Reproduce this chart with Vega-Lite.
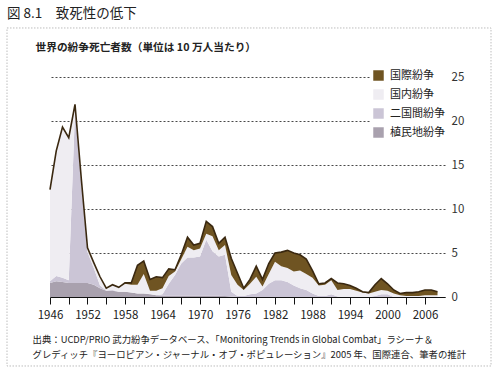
{
  "$schema": "https://vega.github.io/schema/vega-lite/v6.json",
  "width": 395,
  "height": 220,
  "autosize": {"type": "none"},
  "padding": {"left": 50, "top": 77, "right": 56, "bottom": 87},
  "background": "white",
  "config": {"font": "Noto Sans CJK JP", "view": {"stroke": null}},
  "title": {"text": "図 8.1　致死性の低下", "anchor": "start", "frame": "group", "dx": -43, "fontSize": 13.5, "fontWeight": "normal", "font": "Noto Sans CJK JP", "color": "#222", "offset": 0, "baseline": "middle", "dy": 0},
  "data": {"values": [
    {"year":1946,"colonial":1.6,"inter":0.2,"civil":10.4,"intl":0},
    {"year":1947,"colonial":1.8,"inter":0.6,"civil":14.2,"intl":0},
    {"year":1948,"colonial":1.7,"inter":0.5,"civil":17.1,"intl":0},
    {"year":1949,"colonial":1.6,"inter":0.3,"civil":16.2,"intl":0},
    {"year":1950,"colonial":1.6,"inter":19.6,"civil":0.7,"intl":0},
    {"year":1951,"colonial":1.6,"inter":11.4,"civil":0.5,"intl":0},
    {"year":1952,"colonial":1.6,"inter":3.5,"civil":0.5,"intl":0},
    {"year":1953,"colonial":1.4,"inter":1.9,"civil":0.6,"intl":0},
    {"year":1954,"colonial":1.0,"inter":0.3,"civil":1.0,"intl":0},
    {"year":1955,"colonial":0.7,"inter":0.05,"civil":0.25,"intl":0},
    {"year":1956,"colonial":0.7,"inter":0.1,"civil":0.6,"intl":0},
    {"year":1957,"colonial":0.6,"inter":0,"civil":0.5,"intl":0},
    {"year":1958,"colonial":0.6,"inter":0,"civil":0.9,"intl":0.1},
    {"year":1959,"colonial":0.5,"inter":0,"civil":0.9,"intl":0.2},
    {"year":1960,"colonial":0.4,"inter":0,"civil":1.0,"intl":2.2},
    {"year":1961,"colonial":0.4,"inter":0,"civil":2.2,"intl":1.5},
    {"year":1962,"colonial":0.3,"inter":0.05,"civil":0.35,"intl":1.3},
    {"year":1963,"colonial":0.2,"inter":0,"civil":0.5,"intl":1.6},
    {"year":1964,"colonial":0.15,"inter":0.15,"civil":0.7,"intl":1.2},
    {"year":1965,"colonial":0.15,"inter":1.35,"civil":0.9,"intl":0.8},
    {"year":1966,"colonial":0.15,"inter":2.35,"civil":0.4,"intl":0.2},
    {"year":1967,"colonial":0.15,"inter":3.65,"civil":0.5,"intl":0.5},
    {"year":1968,"colonial":0.15,"inter":4.35,"civil":1.2,"intl":1.1},
    {"year":1969,"colonial":0.15,"inter":4.35,"civil":0.8,"intl":0.6},
    {"year":1970,"colonial":0.15,"inter":4.45,"civil":0.9,"intl":0.6},
    {"year":1971,"colonial":0.15,"inter":6.35,"civil":0.7,"intl":1.4},
    {"year":1972,"colonial":0.15,"inter":5.05,"civil":1.7,"intl":1.1},
    {"year":1973,"colonial":0.15,"inter":4.45,"civil":0.7,"intl":0.8},
    {"year":1974,"colonial":0.1,"inter":4.7,"civil":1.1,"intl":0.9},
    {"year":1975,"colonial":0.05,"inter":0.55,"civil":1.9,"intl":1.9},
    {"year":1976,"colonial":0,"inter":0.1,"civil":1.3,"intl":1.3},
    {"year":1977,"colonial":0,"inter":0.1,"civil":0.7,"intl":0.2},
    {"year":1978,"colonial":0,"inter":0.3,"civil":1.2,"intl":0.5},
    {"year":1979,"colonial":0,"inter":0.4,"civil":1.9,"intl":1.2},
    {"year":1980,"colonial":0,"inter":0.8,"civil":0.4,"intl":0.8},
    {"year":1981,"colonial":0,"inter":1.5,"civil":1.1,"intl":1.2},
    {"year":1982,"colonial":0,"inter":1.9,"civil":2.1,"intl":1.0},
    {"year":1983,"colonial":0,"inter":1.9,"civil":1.6,"intl":1.6},
    {"year":1984,"colonial":0,"inter":1.7,"civil":1.6,"intl":2.0},
    {"year":1985,"colonial":0,"inter":1.3,"civil":1.6,"intl":2.1},
    {"year":1986,"colonial":0,"inter":1.0,"civil":2.0,"intl":1.8},
    {"year":1987,"colonial":0,"inter":0.8,"civil":1.8,"intl":1.7},
    {"year":1988,"colonial":0,"inter":0.4,"civil":1.8,"intl":0.8},
    {"year":1989,"colonial":0,"inter":0.1,"civil":1.2,"intl":0.2},
    {"year":1990,"colonial":0,"inter":0.1,"civil":1.3,"intl":0.2},
    {"year":1991,"colonial":0,"inter":0.3,"civil":1.6,"intl":0.2},
    {"year":1992,"colonial":0,"inter":0.05,"civil":0.75,"intl":0.8},
    {"year":1993,"colonial":0,"inter":0,"civil":0.9,"intl":0.6},
    {"year":1994,"colonial":0,"inter":0,"civil":0.9,"intl":0.4},
    {"year":1995,"colonial":0,"inter":0,"civil":0.7,"intl":0.3},
    {"year":1996,"colonial":0,"inter":0,"civil":0.5,"intl":0.1},
    {"year":1997,"colonial":0,"inter":0,"civil":0.4,"intl":0.1},
    {"year":1998,"colonial":0,"inter":0.1,"civil":0.5,"intl":0.8},
    {"year":1999,"colonial":0,"inter":0.3,"civil":0.5,"intl":1.3},
    {"year":2000,"colonial":0,"inter":0.3,"civil":0.4,"intl":0.8},
    {"year":2001,"colonial":0,"inter":0,"civil":0.4,"intl":0.4},
    {"year":2002,"colonial":0,"inter":0,"civil":0.2,"intl":0.2},
    {"year":2003,"colonial":0,"inter":0,"civil":0.1,"intl":0.4},
    {"year":2004,"colonial":0,"inter":0,"civil":0.1,"intl":0.4},
    {"year":2005,"colonial":0,"inter":0,"civil":0.1,"intl":0.5},
    {"year":2006,"colonial":0,"inter":0,"civil":0.2,"intl":0.6},
    {"year":2007,"colonial":0,"inter":0,"civil":0.2,"intl":0.6},
    {"year":2008,"colonial":0,"inter":0,"civil":0.2,"intl":0.4}
  ]},
  "layer": [
    {
      "data": {"values": [{}]},
      "mark": {"type": "rect", "fill": null, "fillOpacity": 0, "stroke": "#bdbdbd", "strokeDash": [1.5, 1.5], "strokeWidth": 1, "clip": false},
      "encoding": {
        "x": {"datum": 1939.12, "type": "quantitative"},
        "x2": {"datum": 2016.56},
        "y": {"datum": 30.57, "type": "quantitative"},
        "y2": {"datum": -7.84}
      }
    },
    {
      "transform": [
        {"fold": ["colonial", "inter", "civil", "intl"], "as": ["key", "value"]},
        {"calculate": "datum.key === 'intl' ? '国際紛争' : datum.key === 'civil' ? '国内紛争' : datum.key === 'inter' ? '二国間紛争' : '植民地紛争'", "as": "type"},
        {"calculate": "indexof(['colonial', 'inter', 'civil', 'intl'], datum.key)", "as": "k"},
        {"stack": "value", "groupby": ["year"], "sort": [{"field": "k", "order": "ascending"}], "as": ["v0", "v1"]}
      ],
      "layer": [
        {
          "mark": {"type": "area", "interpolate": "linear"},
          "encoding": {
            "x": {
              "field": "year", "type": "quantitative",
              "scale": {"domain": [1946, 2009.2], "nice": false, "zero": false},
              "axis": {
                "values": [1946,1949,1952,1955,1958,1961,1964,1967,1970,1973,1976,1979,1982,1985,1988,1991,1994,1997,2000,2003,2006],
                "tickCount": 40,
                "format": "d",
                "labelExpr": "(datum.value - 1946) % 6 === 0 ? datum.label : ''",
                "grid": false,
                "domainColor": "#111", "domainWidth": 1,
                "tickColor": "#111", "tickSize": 7, "tickWidth": 1,
                "labelFont": "Noto Sans CJK JP", "labelFontSize": 11.5, "labelColor": "#222", "labelPadding": 5,
                "labelOverlap": false, "labelFlush": false, "labelBound": false,
                "title": ["出典：UCDP/PRIO 武力紛争データベース、「Monitoring Trends in Global Combat」ラシーナ＆", "グレディッチ『ヨーロピアン・ジャーナル・オブ・ポピュレーション』2005 年、国際連合、筆者の推計"],
                "titleFont": "Noto Sans CJK JP", "titleFontSize": 9.4, "titleFontWeight": "normal", "titleColor": "#222",
                "titleAlign": "left", "titleBaseline": "top", "titleAnchor": "start",
                "titleX": -18, "titleY": 38, "titleLineHeight": 15.5
              }
            },
            "y": {
              "field": "v1", "type": "quantitative",
              "scale": {"domain": [0, 25], "nice": false},
              "axis": {
                "orient": "right",
                "values": [0, 5, 10, 15, 20, 25],
                "tickCount": 10,
                "grid": true, "gridDash": [2, 2], "gridColor": "#333", "gridWidth": 0.9,
                "domain": false, "ticks": false,
                "labelFont": "Noto Sans CJK JP", "labelFontSize": 11.5, "labelColor": "#333", "labelPadding": 6,
                "title": "世界の紛争死亡者数（単位は 10 万人当たり）",
                "titleFont": "Noto Sans CJK JP", "titleFontSize": 10.7, "titleFontWeight": "bold", "titleColor": "#222",
                "titleAngle": 0, "titleAlign": "left", "titleBaseline": "middle",
                "titleX": -410, "titleY": -30
              }
            },
            "y2": {"field": "v0"},
            "color": {
              "field": "type", "type": "nominal",
              "scale": {"domain": ["国際紛争", "国内紛争", "二国間紛争", "植民地紛争"], "range": ["#6f5422", "#efedf2", "#cbc5d6", "#a9a1ae"]},
              "legend": {
                "title": null, "orient": "none", "legendX": 320, "legendY": -10,
                "fillColor": "white", "padding": 3,
                "symbolType": "square", "symbolSize": 110, "symbolStrokeWidth": 0,
                "labelFont": "Noto Sans CJK JP", "labelFontSize": 11, "labelColor": "#222",
                "rowPadding": 7, "labelOffset": 6
              }
            }
          }
        },
        {
          "transform": [{"filter": "datum.key === 'intl'"}],
          "mark": {"type": "line", "color": "#3a2810", "strokeWidth": 1.6},
          "encoding": {
            "x": {"field": "year", "type": "quantitative"},
            "y": {"field": "v1", "type": "quantitative"}
          }
        }
      ]
    }
  ]
}
